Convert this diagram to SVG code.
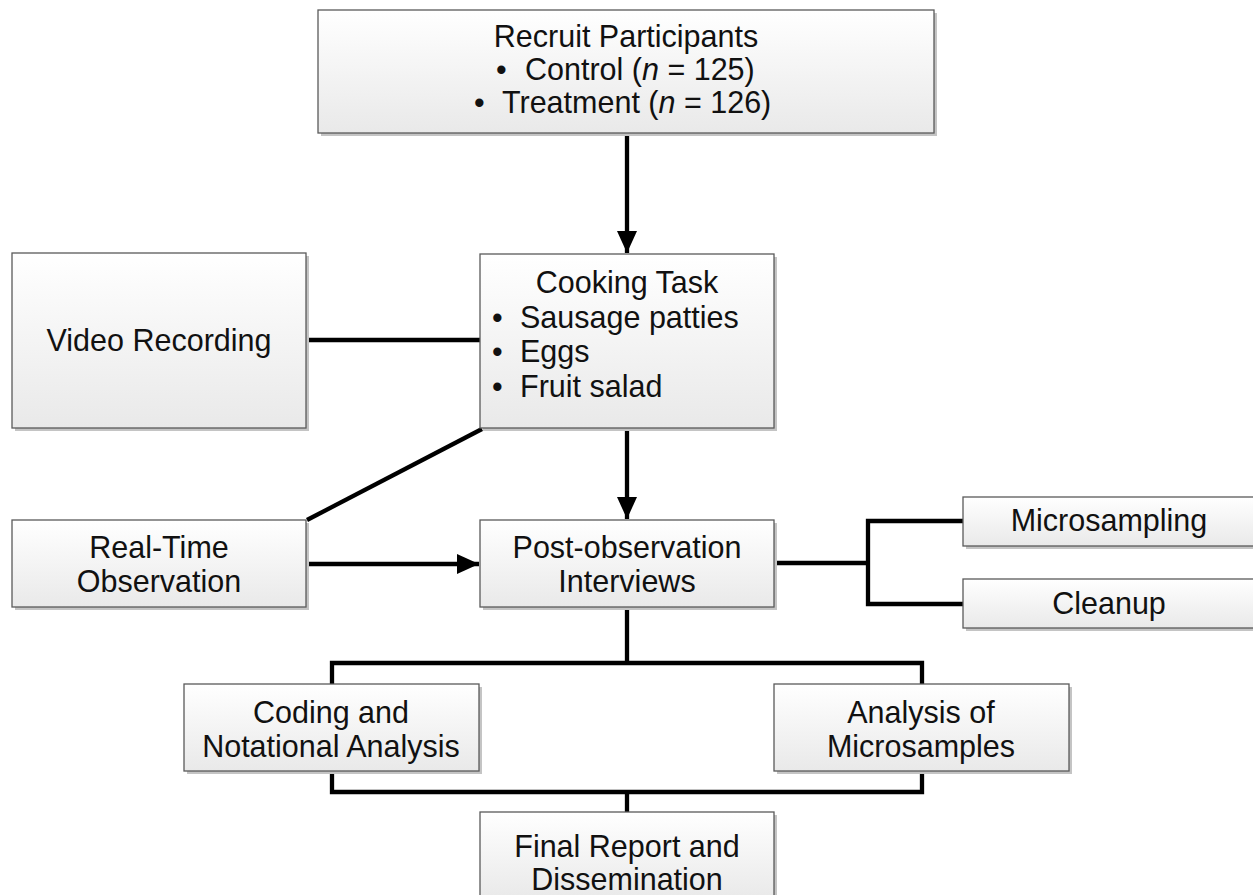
<svg xmlns="http://www.w3.org/2000/svg" width="1253" height="895" viewBox="0 0 1253 895">
<defs>
<linearGradient id="g" x1="0" y1="0" x2="0" y2="1">
<stop offset="0" stop-color="#ffffff"/>
<stop offset="1" stop-color="#e9e9e9"/>
</linearGradient>
<marker id="ah" markerUnits="userSpaceOnUse" markerWidth="22" markerHeight="22" viewBox="0 0 22 22" refX="22" refY="11" orient="auto">
<path d="M0,1 L22,11 L0,21 Z" fill="#000"/>
</marker>
<style>
.box{fill:url(#g);stroke:#5a5a5a;stroke-width:1.3}
.sh{fill:#c4c4c4}
.t{font-family:"Liberation Sans",Arial,sans-serif;font-size:30.5px;fill:#111}
.c{text-anchor:middle}
.ln{fill:none;stroke:#000;stroke-width:4.3}
</style>
</defs>
<g id="connectors">
<line class="ln" x1="627" y1="134" x2="627" y2="253" marker-end="url(#ah)"/>
<line class="ln" x1="627" y1="428" x2="627" y2="519" marker-end="url(#ah)"/>
<line class="ln" x1="306" y1="564" x2="479" y2="564" marker-end="url(#ah)"/>
<line class="ln" x1="306" y1="340" x2="480" y2="340"/>
<line class="ln" x1="307" y1="520" x2="482" y2="429"/>
<polyline class="ln" points="774,563 868,563"/>
<polyline class="ln" points="963,521 868,521 868,604 963,604"/>
<polyline class="ln" points="627,607 627,663"/>
<polyline class="ln" points="332,684 332,663 922,663 922,684"/>
<polyline class="ln" points="332,771 332,792 922,792 922,771"/>
<polyline class="ln" points="627,792 627,812"/>
</g>
<g id="recruit">
<rect class="sh" x="321" y="13" width="616" height="123"/>
<rect class="box" x="318" y="10" width="616" height="123"/>
<text class="t c" x="626" y="47">Recruit Participants</text>
<text class="t" x="496" y="80">•</text>
<text class="t" x="525" y="80">Control (<tspan font-style="italic">n</tspan> = 125)</text>
<text class="t" x="474" y="113">•</text>
<text class="t" x="502" y="113">Treatment (<tspan font-style="italic">n</tspan> = 126)</text>
</g>
<g id="cooking">
<rect class="sh" x="483" y="257" width="294" height="174"/>
<rect class="box" x="480" y="254" width="294" height="174"/>
<text class="t c" x="627" y="293">Cooking Task</text>
<text class="t" x="492" y="328">•</text>
<text class="t" x="520" y="328">Sausage patties</text>
<text class="t" x="492" y="362">•</text>
<text class="t" x="520" y="362">Eggs</text>
<text class="t" x="492" y="397">•</text>
<text class="t" x="520" y="397">Fruit salad</text>
</g>
<g id="video">
<rect class="sh" x="15" y="256" width="294" height="175"/>
<rect class="box" x="12" y="253" width="294" height="175"/>
<text class="t c" x="159" y="351">Video Recording</text>
</g>
<g id="realtime">
<rect class="sh" x="15" y="523" width="294" height="87"/>
<rect class="box" x="12" y="520" width="294" height="87"/>
<text class="t c" x="159" y="558">Real-Time</text>
<text class="t c" x="159" y="592">Observation</text>
</g>
<g id="post">
<rect class="sh" x="483" y="523" width="294" height="87"/>
<rect class="box" x="480" y="520" width="294" height="87"/>
<text class="t c" x="627" y="558">Post-observation</text>
<text class="t c" x="627" y="592">Interviews</text>
</g>
<g id="microsampling">
<rect class="sh" x="966" y="500" width="292" height="49"/>
<rect class="box" x="963" y="497" width="292" height="49"/>
<text class="t c" x="1109" y="531">Microsampling</text>
</g>
<g id="cleanup">
<rect class="sh" x="966" y="582" width="292" height="49"/>
<rect class="box" x="963" y="579" width="292" height="49"/>
<text class="t c" x="1109" y="614">Cleanup</text>
</g>
<g id="coding">
<rect class="sh" x="187" y="687" width="295" height="87"/>
<rect class="box" x="184" y="684" width="295" height="87"/>
<text class="t c" x="331" y="723">Coding and</text>
<text class="t c" x="331" y="757">Notational Analysis</text>
</g>
<g id="analysis">
<rect class="sh" x="777" y="687" width="295" height="87"/>
<rect class="box" x="774" y="684" width="295" height="87"/>
<text class="t c" x="921" y="723">Analysis of</text>
<text class="t c" x="921" y="757">Microsamples</text>
</g>
<g id="final">
<rect class="sh" x="483" y="815" width="294" height="87"/>
<rect class="box" x="480" y="812" width="294" height="87"/>
<text class="t c" x="627" y="857">Final Report and</text>
<text class="t c" x="627" y="890">Dissemination</text>
</g>
</svg>
